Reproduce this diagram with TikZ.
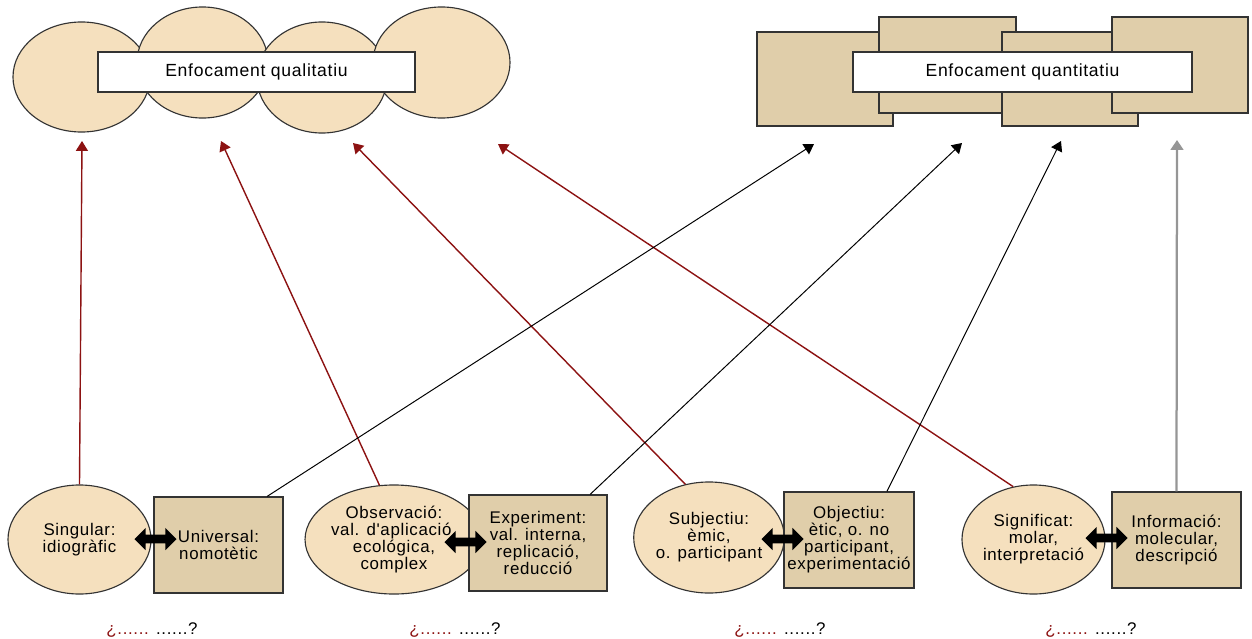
\documentclass[tikz,border=0pt]{standalone}
\usepackage{fontspec}
\setmainfont[LetterSpace=4, Ligatures=TeXOff]{Liberation Sans}
\usepackage{tikz}
\usetikzlibrary{shapes.geometric, shapes.arrows, arrows.meta}

\definecolor{qualfill}{RGB}{245,224,190}
\definecolor{quantfill}{RGB}{224,206,170}
\definecolor{qualred}{RGB}{140,18,18}
\definecolor{linegray}{RGB}{150,150,150}

\tikzset{
  qualcloud/.style = {ellipse, draw = black!80, line width = 0.8pt, fill = qualfill, inner sep = 0pt},
  quantblock/.style = {rectangle, draw = black!80, line width = 0.8pt, fill = quantfill, inner sep = 0pt},
  titlebox/.style = {rectangle, draw = black!80, line width = 0.8pt, fill = white, minimum height = 1cm, font = \fontsize{12.5}{13}\selectfont},
  qualnode/.style = {qualcloud, align = center, font = \fontsize{12}{12.1}\selectfont},
  quantnode/.style = {quantblock, align = center, font = \fontsize{12}{12.1}\selectfont},
  dblarrow/.style = {double arrow, fill = black, draw = none, inner xsep = 0pt, inner ysep = 0.1cm, minimum height = 1.05cm, double arrow head extend = 0.17cm},
  qualarrow/.style = {draw = qualred, line width = 1pt, -{Triangle[length = 7pt, width = 8.5pt]}},
  quantarrow/.style = {draw = black, line width = 0.7pt, -{Triangle[length = 7pt, width = 8.5pt]}},
  question/.style = {anchor = base, font = \fontsize{12}{12.1}\selectfont}
}

\begin{document}
\begin{tikzpicture}[x = 0.025cm, y = -0.025cm]
\useasboundingbox (0,0) rectangle (1252,639);

% qualitative header
\node[qualcloud, minimum width = 3.425cm, minimum height = 2.75cm] (E1) at (81.5, 77) {};
\node[qualcloud, minimum width = 3.275cm, minimum height = 2.775cm] (E2) at (202.5, 62.5) {};
\node[qualcloud, minimum width = 3.25cm, minimum height = 2.775cm] (E3) at (322, 77.5) {};
\node[qualcloud, minimum width = 3.425cm, minimum height = 2.775cm] (E4) at (441.5, 62.5) {};
\node[titlebox, minimum width = 7.925cm] (QL) at (256.5, 72) {Enfocament qualitatiu};

% quantitative header
\node[quantblock, minimum width = 3.4cm, minimum height = 2.35cm] (R1) at (825, 79) {};
\node[quantblock, minimum width = 3.425cm, minimum height = 2.4cm] (R2) at (947.5, 65) {};
\node[quantblock, minimum width = 3.4cm, minimum height = 2.35cm] (R3) at (1070, 79) {};
\node[quantblock, minimum width = 3.4cm, minimum height = 2.4cm] (R4) at (1180, 65) {};
\node[titlebox, minimum width = 8.475cm] (QT) at (1022.5, 72) {Enfocament quantitatiu};

% pairs
\node[qualnode, minimum width = 3.575cm, minimum height = 2.725cm] (SG) at (79.5, 539.5) {Singular:\\idiogràfic};
\node[quantnode, minimum width = 3.225cm, minimum height = 2.4cm] (UN) at (218.5, 545) {Universal:\\nomotètic};
\node[qualnode, minimum width = 3.55cm, minimum height = 2.725cm] (OB) at (394, 539.5) {Observació:\\val. d'aplicació,\\ecológica,\\complex};
\node[quantnode, minimum width = 3.45cm, minimum height = 2.4cm] (EX) at (538, 543) {Experiment:\\val. interna,\\replicació,\\reducció};
\node[qualnode, minimum width = 3.7cm, minimum height = 2.775cm] (SJ) at (709, 537.5) {Subjectiu:\\èmic,\\o. participant};
\node[quantnode, minimum width = 3.25cm, minimum height = 2.4cm] (OBJ) at (849, 540) {Objectiu:\\ètic, o. no\\participant,\\experimentació};
\node[qualnode, minimum width = 3.575cm, minimum height = 2.725cm] (SF) at (1033.5, 539.5) {Significat:\\molar,\\interpretació};
\node[quantnode, minimum width = 3.225cm, minimum height = 2.4cm] (INF) at (1176.5, 540) {Informació:\\molecular,\\descripció};

\node[dblarrow] (D1) at (155.5, 539) {};
\node[dblarrow] (D2) at (465.5, 542) {};
\node[dblarrow] (D3) at (782.5, 539) {};
\node[dblarrow] (D4) at (1106.5, 538) {};

% arrow ends
\coordinate (T1) at (82, 141);
\coordinate (T2) at (221, 141);
\coordinate (T3) at (353, 143);
\coordinate (T4) at (498, 144);
\coordinate (T5) at (814, 144);
\coordinate (T6) at (962, 143);
\coordinate (T7) at (1061, 141);
\coordinate (T8) at (1177, 140);

\draw[qualarrow] (SG.north) -- (T1);
\draw[qualarrow] (OB.105) -- (T2);
\draw[qualarrow] (SJ.114) -- (T3);
\draw[qualarrow] (SF.111) -- (T4);
\draw[quantarrow] (UN.45) -- (T5);
\draw[quantarrow] (EX.43) -- (T6);
\draw[quantarrow] (OBJ.52) -- (T7);
\draw[quantarrow, draw = linegray, line width = 1.6pt, -{Triangle[length = 7pt, width = 9pt]}] (INF.north) -- (T8);

\node[question] (Q1) at (152, 634) {\textcolor{qualred}{¿......} ......?};
\node[question] (Q2) at (455, 634) {\textcolor{qualred}{¿......} ......?};
\node[question] (Q3) at (780, 634) {\textcolor{qualred}{¿......} ......?};
\node[question] (Q4) at (1091, 634) {\textcolor{qualred}{¿......} ......?};
\end{tikzpicture}
\end{document}
